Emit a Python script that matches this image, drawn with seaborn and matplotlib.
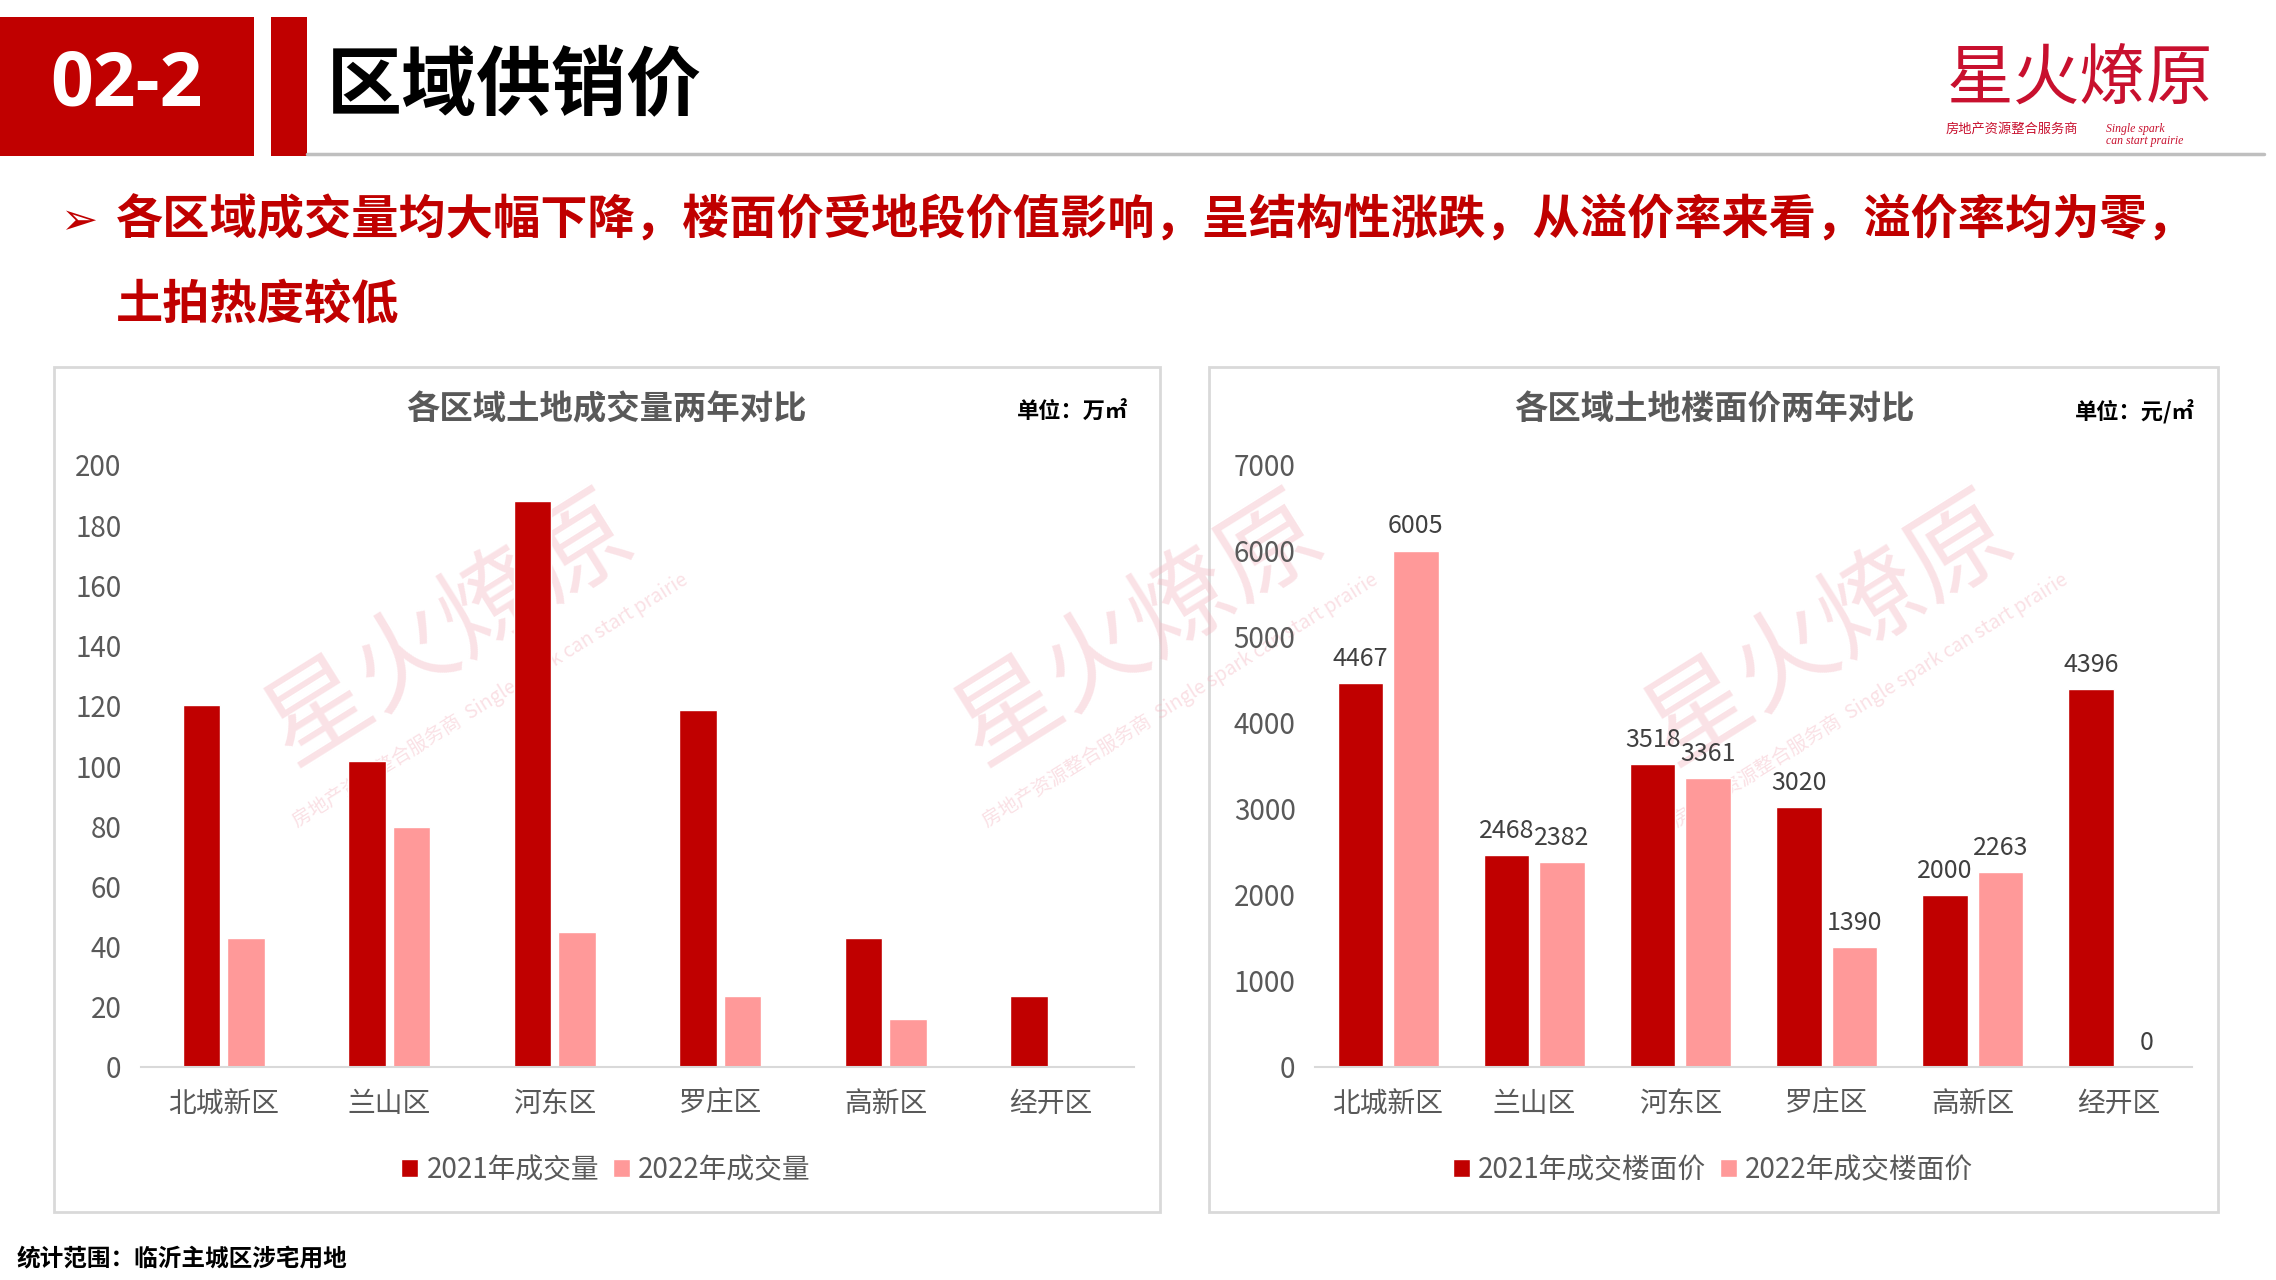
import numpy as np
import pandas as pd
import matplotlib
matplotlib.use("Agg")
import matplotlib.pyplot as plt
from matplotlib.patches import Rectangle, Patch
from matplotlib.lines import Line2D
import seaborn as sns

# ==========================================
# Data
# ==========================================
districts = ["北城新区", "兰山区", "河东区", "罗庄区", "高新区", "经开区"]
volume_2021 = [120.4, 101.6, 188.2, 118.5, 42.7, 23.6]
volume_2022 = [42.7, 79.6, 44.7, 23.6, 15.8, 0]
price_2021 = [4467, 2468, 3518, 3020, 2000, 4396]
price_2022 = [6005, 2382, 3361, 1390, 2263, 0]
volume_series = ["2021年成交量", "2022年成交量"]
price_series = ["2021年成交楼面价", "2022年成交楼面价"]
volume_ticks = [0, 20, 40, 60, 80, 100, 120, 140, 160, 180, 200]
price_ticks = [0, 1000, 2000, 3000, 4000, 5000, 6000, 7000]

headline = "区域供销价"
section_no = "02-2"
bullet_line1 = "各区域成交量均大幅下降，楼面价受地段价值影响，呈结构性涨跌，从溢价率来看，溢价率均为零，"
bullet_line2 = "土拍热度较低"
title_volume = "各区域土地成交量两年对比"
title_price = "各区域土地楼面价两年对比"
unit_volume = "单位：万㎡"
unit_price = "单位：元/㎡"
footer = "统计范围：临沂主城区涉宅用地"

DARK = "#C00000"
PINK = "#FF9999"
RED = "#C00000"
GREY_TXT = "#595959"

W, H = 2276, 1280


def fx(x):
    return x / W


def fy(y):
    return 1 - y / H


sns.set_style("white")
plt.rcParams['font.family'] = ['Noto Sans CJK SC', 'DejaVu Sans']
plt.rcParams['axes.unicode_minus'] = False

fig = plt.figure(figsize=(W / 100, H / 100), dpi=100)

# ==========================================
# Header
# ==========================================
fig.add_artist(Rectangle((0, fy(156)), fx(254), (156 - 17) / H, transform=fig.transFigure,
                         facecolor=RED, edgecolor="none"))
fig.add_artist(Rectangle((fx(271), fy(156)), fx(307) - fx(271), (156 - 17) / H,
                         transform=fig.transFigure, facecolor=RED, edgecolor="none"))
fig.add_artist(Line2D([fx(307), fx(2264)], [fy(154), fy(154)], transform=fig.transFigure,
                      color="#BFBFBF", lw=2.5))
fig.text(fx(126), fy(86), section_no, fontsize=54, weight="bold", color="white",
         ha="center", va="center", family=["Open Sans", "DejaVu Sans"])
fig.text(fx(327), fy(86), headline, fontsize=54, weight="bold", color="black",
         ha="left", va="center")

# logo
fig.text(fx(2080), fy(80), "星火燎原", fontsize=48, color="#C8102E", ha="center", va="center")
fig.text(fx(1946), fy(129), "房地产资源整合服务商", fontsize=9.5, color="#C8102E",
         ha="left", va="center")
fig.text(fx(2106), fy(135), "Single spark\ncan start prairie", fontsize=8.5, color="#C8102E",
         ha="left", va="center", family=["Liberation Serif", "DejaVu Serif"], style="italic",
         linespacing=0.9)

# bullet text
fig.text(fx(60), fy(222), "➢", fontsize=32, color=RED, ha="left", va="center",
         family=["DejaVu Sans"])
fig.text(fx(116), fy(221), bullet_line1, fontsize=34, weight="bold", color=RED,
         ha="left", va="center")
fig.text(fx(116), fy(305), bullet_line2, fontsize=34, weight="bold", color=RED,
         ha="left", va="center")

# ==========================================
# Panels + watermarks
# ==========================================
for x0, x1 in [(54, 1160), (1209, 2218)]:
    fig.add_artist(Rectangle((fx(x0), fy(1212)), fx(x1) - fx(x0), (1212 - 367) / H,
                             transform=fig.transFigure, facecolor="white",
                             edgecolor="#D9D9D9", lw=2, zorder=-2))

for cx in [450, 1140, 1830]:
    fig.text(fx(cx), fy(630), "星火燎原", fontsize=74, color="#F3B3BE", alpha=0.38,
             rotation=32, ha="center", va="center", zorder=-1)
    fig.text(fx(cx + 40), fy(700), "房地产资源整合服务商  Single spark can start prairie",
             fontsize=14, color="#F3B3BE", alpha=0.4, rotation=32,
             ha="center", va="center", zorder=-1)

# ==========================================
# Charts
# ==========================================
df_vol = pd.DataFrame({
    "区域": districts * 2,
    "系列": [volume_series[0]] * len(districts) + [volume_series[1]] * len(districts),
    "值": volume_2021 + volume_2022,
})
df_price = pd.DataFrame({
    "区域": districts * 2,
    "系列": [price_series[0]] * len(districts) + [price_series[1]] * len(districts),
    "值": price_2021 + price_2022,
})

ax1 = fig.add_axes([fx(141), fy(1067), fx(1134) - fx(141), (1067 - 465) / H])
ax2 = fig.add_axes([fx(1315), fy(1067), fx(2192) - fx(1315), (1067 - 465) / H])

sns.barplot(data=df_vol, x="区域", y="值", hue="系列", palette=[DARK, PINK],
            width=0.54, gap=0.16, saturation=1, errorbar=None, legend=False, ax=ax1)
sns.barplot(data=df_price, x="区域", y="值", hue="系列", palette=[DARK, PINK],
            width=0.76, gap=0.18, saturation=1, errorbar=None, legend=False, ax=ax2)

ax1.set_ylim(0, 200)
ax1.set_yticks(volume_ticks)
ax2.set_ylim(0, 7000)
ax2.set_yticks(price_ticks)

for cont in ax2.containers:
    ax2.bar_label(cont, labels=[f"{int(v)}" for v in cont.datavalues], padding=8,
                  fontsize=18, color="#404040")

for ax, series, cx in [(ax1, volume_series, 606), (ax2, price_series, 1713)]:
    ax.set_facecolor("none")
    ax.set_xlim(-0.5, len(districts) - 0.5)
    ax.set_xlabel("")
    ax.set_ylabel("")
    for side in ["top", "right", "left"]:
        ax.spines[side].set_visible(False)
    ax.spines["bottom"].set_color("#D9D9D9")
    ax.spines["bottom"].set_linewidth(1.5)
    ax.tick_params(axis="both", length=0, labelsize=20, labelcolor=GREY_TXT)
    ax.tick_params(axis="y", pad=14)
    ax.tick_params(axis="x", pad=16)
    handles = [Patch(facecolor=DARK, label=series[0]), Patch(facecolor=PINK, label=series[1])]
    ax.legend(handles=handles, loc="center", bbox_to_anchor=(fx(cx), fy(1170)),
              bbox_transform=fig.transFigure, ncol=2, frameon=False, fontsize=20,
              labelcolor=GREY_TXT, handlelength=0.6, handleheight=0.6,
              handletextpad=0.3, columnspacing=0.5)

fig.text(fx(606), fy(410), title_volume, fontsize=24, weight="bold", color=GREY_TXT,
         ha="center", va="center")
fig.text(fx(1714), fy(410), title_price, fontsize=24, weight="bold", color=GREY_TXT,
         ha="center", va="center")
fig.text(fx(1128), fy(412), unit_volume, fontsize=16, weight="bold", color="black",
         ha="right", va="center")
fig.text(fx(2195), fy(412), unit_price, fontsize=16, weight="bold", color="black",
         ha="right", va="center")

fig.text(fx(17), fy(1258), footer, fontsize=17, weight="bold", color="black",
         ha="left", va="center")

fig.savefig("out.png", dpi=100)
print("saved out.png")
